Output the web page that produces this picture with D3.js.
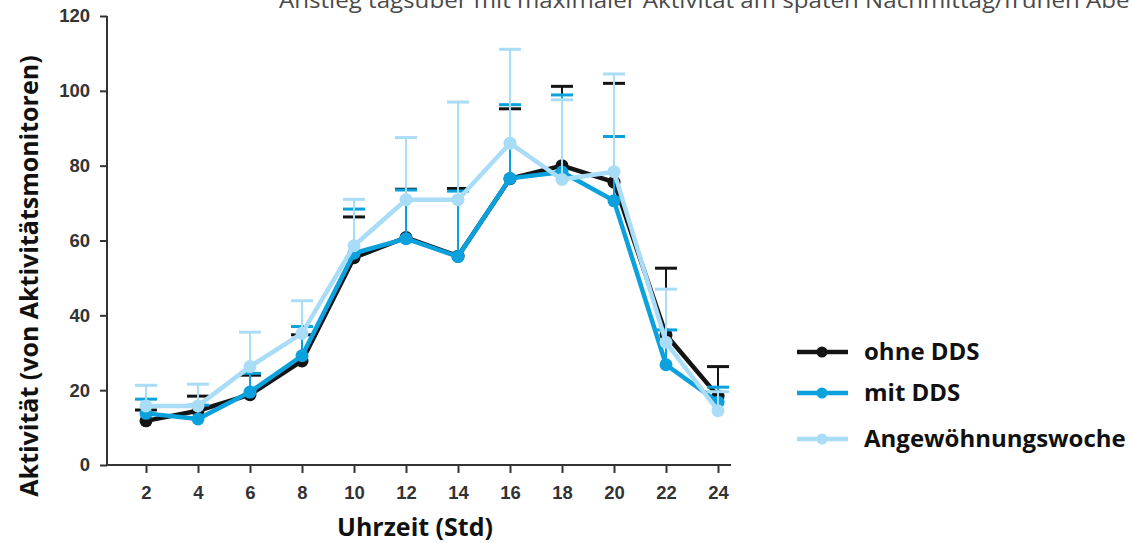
<!DOCTYPE html>
<html>
<head>
<meta charset="utf-8">
<script src="https://cdn.jsdelivr.net/npm/d3@7"></script>
<style>
  html, body { margin: 0; padding: 0; background: #fff; }
  svg { display: block; }
</style>
</head>
<body>
<svg id="chart" width="1131" height="543"></svg>
<script>
// Hours of the day (x axis)
const hours = [2, 4, 6, 8, 10, 12, 14, 16, 18, 20, 22, 24];

// Mean activity per series
const ohneDDS      = [11.8, 14.5, 18.8, 27.8, 55.4, 60.8, 55.8, 76.5, 80.0, 75.6, 34.8, 18.4];
const mitDDS       = [13.8, 12.3, 19.5, 29.2, 56.6, 60.5, 55.7, 76.6, 78.3, 70.6, 26.8, 16.8];
const angewoehnung = [15.8, 15.8, 26.3, 35.2, 58.6, 70.9, 70.9, 86.0, 76.3, 78.4, 32.8, 14.5];

// Upper end of the error bars per series
const ohneDDSUpper      = [14.7, 18.4, 24.0, 34.8, 66.3, 73.7, 73.9, 95.2, 101.2, 102.0, 52.6, 26.3];
const mitDDSUpper       = [17.6, 16.0, 24.5, 37.0, 68.4, 73.5, 73.2, 96.3, 98.9, 87.8, 36.1, 20.8];
const angewoehnungUpper = [21.3, 21.6, 35.5, 43.9, 71.0, 87.5, 97.0, 111.1, 97.6, 104.5, 47.0, 19.6];

const yTicks = [0, 20, 40, 60, 80, 100, 120];
const seriesNames = ["ohne DDS", "mit DDS", "Angewöhnungswoche"];
const seriesColors = ["#141414", "#0aa1dd", "#a9dcf6"];

const series = [
  { name: seriesNames[0], color: seriesColors[0], values: ohneDDS, upper: ohneDDSUpper },
  { name: seriesNames[1], color: seriesColors[1], values: mitDDS, upper: mitDDSUpper },
  { name: seriesNames[2], color: seriesColors[2], values: angewoehnung, upper: angewoehnungUpper }
];

const svg = d3.select("#chart");

const x = d3.scaleLinear().domain([2, 24]).range([146, 718]);
const y = d3.scaleLinear().domain([0, 120]).range([465, 16]);

const axisColor = "#333";
const tickFont = "'Liberation Sans', Arial, sans-serif";
const labelFont = "'Open Sans', 'Noto Sans', sans-serif";

// Caption line running along the top edge
svg.append("text")
  .attr("x", 279)
  .attr("y", 8)
  .attr("font-family", labelFont)
  .attr("font-size", 21.5)
  .attr("font-weight", 400)
  .attr("fill", "#4a4a4a")
  .attr("textLength", 880)
  .attr("lengthAdjust", "spacingAndGlyphs")
  .text("Anstieg tagsüber mit maximaler Aktivität am späten Nachmittag/frühen Abend");

// Y axis
const yAxis = d3.axisLeft(y).tickValues(yTicks).tickSize(7).tickPadding(10);
const gy = svg.append("g").attr("transform", "translate(107,0)").call(yAxis);
gy.select(".domain").attr("stroke", axisColor).attr("stroke-width", 2)
  .attr("d", `M0,${y(120)}V${y(0) + 1}`);
gy.selectAll(".tick line").attr("stroke", axisColor).attr("stroke-width", 2);
gy.selectAll(".tick text")
  .attr("font-family", tickFont).attr("font-size", 18.5).attr("font-weight", "bold")
  .attr("fill", "#333");

// X axis
const xAxis = d3.axisBottom(x).tickValues(hours).tickSize(8).tickPadding(13);
const gx = svg.append("g").attr("transform", `translate(0,${y(0)})`).call(xAxis);
gx.select(".domain").attr("stroke", axisColor).attr("stroke-width", 2)
  .attr("d", "M106,0H731");
gx.selectAll(".tick line").attr("stroke", axisColor).attr("stroke-width", 2);
gx.selectAll(".tick text")
  .attr("font-family", tickFont).attr("font-size", 18.5).attr("font-weight", "bold")
  .attr("fill", "#333");

// Axis titles
svg.append("text")
  .attr("transform", "translate(38,276) rotate(-90)")
  .attr("text-anchor", "middle")
  .attr("font-family", labelFont).attr("font-size", 25).attr("font-weight", "bold")
  .attr("fill", "#111")
  .text("Aktivität (von Aktivitätsmonitoren)");

svg.append("text")
  .attr("x", 415).attr("y", 536)
  .attr("text-anchor", "middle")
  .attr("font-family", labelFont).attr("font-size", 25).attr("font-weight", "bold")
  .attr("fill", "#111")
  .text("Uhrzeit (Std)");

// Series: error bars, lines and markers
const line = d3.line().x((d, i) => x(hours[i])).y(d => y(d));
const capHalf = 11;

series.forEach(s => {
  const g = svg.append("g");
  const bars = g.selectAll("g.err").data(hours).join("g").attr("class", "err");
  bars.append("line")
    .attr("x1", d => x(d)).attr("x2", d => x(d))
    .attr("y1", (d, i) => y(s.values[i])).attr("y2", (d, i) => y(s.upper[i]))
    .attr("stroke", s.color).attr("stroke-width", 2);
  bars.append("line")
    .attr("x1", d => x(d) - capHalf).attr("x2", d => x(d) + capHalf)
    .attr("y1", (d, i) => y(s.upper[i])).attr("y2", (d, i) => y(s.upper[i]))
    .attr("stroke", s.color).attr("stroke-width", 3);

  g.append("path")
    .datum(s.values)
    .attr("d", line)
    .attr("fill", "none")
    .attr("stroke", s.color)
    .attr("stroke-width", 4.5)
    .attr("stroke-linejoin", "round");

  g.selectAll("circle").data(s.values).join("circle")
    .attr("cx", (d, i) => x(hours[i]))
    .attr("cy", d => y(d))
    .attr("r", 6.5)
    .attr("fill", s.color);
});

// Legend
const legendY = [352, 393, 439];
const legend = svg.append("g");
series.forEach((s, i) => {
  const row = legend.append("g").attr("transform", `translate(0,${legendY[i]})`);
  row.append("line")
    .attr("x1", 797).attr("x2", 848).attr("y1", 0).attr("y2", 0)
    .attr("stroke", s.color).attr("stroke-width", 4.5);
  row.append("circle").attr("cx", 822).attr("cy", 0).attr("r", 5.5).attr("fill", s.color);
  row.append("text")
    .attr("x", 864).attr("y", 0).attr("dy", "0.35em")
    .attr("font-family", labelFont).attr("font-size", 24).attr("font-weight", "bold")
    .attr("fill", "#111")
    .text(s.name);
});
</script>
</body>
</html>
